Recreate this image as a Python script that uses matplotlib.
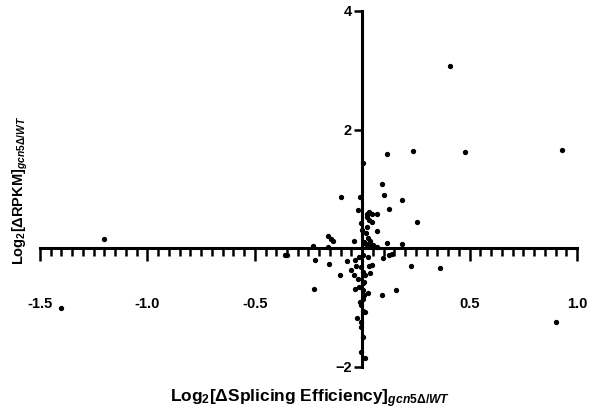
import matplotlib

matplotlib.use("Agg")
import matplotlib.pyplot as plt
from matplotlib.ticker import MultipleLocator, FixedLocator

plt.rcParams["font.family"] = ["Liberation Sans", "DejaVu Sans"]
plt.rcParams["font.weight"] = "bold"
plt.rcParams["mathtext.fontset"] = "custom"
plt.rcParams["mathtext.rm"] = "Liberation Sans:bold"
plt.rcParams["mathtext.bf"] = "Liberation Sans:bold"
plt.rcParams["mathtext.it"] = "Liberation Sans:italic:bold"
plt.rcParams["xtick.major.size"] = 9
plt.rcParams["xtick.minor.size"] = 5.5
plt.rcParams["xtick.major.width"] = 1.8
plt.rcParams["xtick.minor.width"] = 1.8
plt.rcParams["ytick.major.size"] = 6
plt.rcParams["ytick.major.width"] = 1.8

# log2 change in splicing efficiency (x) vs log2 change in RPKM (y), gcn5 delta / WT
splicing = [
    0.41, 0.93, 0.48, 0.236, 0.115, 0.006, 0.092, 0.102, 0.186, -0.101,
    -0.009, -0.020, 0.127, 0.254, -1.203, -1.40, 0.903, 0.36, 0.227, 0.158,
    0.092, 0.185, 0.115, 0.071,
    0.030, 0.022, 0.045, 0.068, 0.022, 0.030, 0.045, -0.005, 0.022, 0.019,
    -0.001, 0.025, 0.037, 0.020, 0.037, 0.052, 0.068, -0.157, -0.144, -0.136,
    -0.037, -0.227, -0.157, 0.010,
    -0.35, -0.36, -0.222, -0.154, -0.102, -0.223, -0.071, -0.035, -0.052, -0.028,
    -0.037, -0.018, -0.033, -0.015, 0.025, 0.096, 0.127, 0.138, 0.030, 0.045,
    0.037, -0.014, 0.028, 0.005, -0.005, 0.005, 0.006, 0.010, 0.005, -0.012,
    -0.006, 0.005, 0.012, -0.025, -0.006, -0.006, 0.014, 0.014, 0.003, 0.008,
    -0.004, 0.002,
]
rpkm = [
    3.08, 1.66, 1.62, 1.64, 1.59, 1.43, 1.08, 0.90, 0.82, 0.86,
    0.86, 0.65, 0.66, 0.45, 0.16, -1.01, -1.25, -0.33, -0.29, -0.71,
    -0.79, 0.08, 0.09, 0.29,
    0.61, 0.58, 0.58, 0.57, 0.53, 0.47, 0.44, 0.43, 0.36, 0.25,
    0.31, 0.18, 0.13, 0.08, 0.06, 0.05, 0.03, 0.21, 0.16, 0.12,
    0.12, 0.04, 0.03, 0.10,
    -0.12, -0.11, -0.20, -0.26, -0.45, -0.69, -0.22, -0.20, -0.37, -0.30,
    -0.45, -0.51, -0.68, -0.65, -0.75, -0.17, -0.12, -0.09, -0.29, -0.28,
    -0.41, -0.15, -0.14, -0.12, -0.32, -0.40, -0.59, -0.57, -0.85, -0.90,
    -0.96, -1.05, -1.07, -1.17, -1.33, -1.74, -1.85, -0.45, -0.70, -0.78,
    -1.25, -1.50,
]
x_major = [-1.5, -1.0, -0.5, 0.0, 0.5, 1.0]
x_labels = ["-1.5", "-1.0", "-0.5", "", "0.5", "1.0"]
y_major = [-2, 2, 4]

fig, ax = plt.subplots(figsize=(5.97, 4.17), dpi=100)
fig.subplots_adjust(left=0.067, right=0.9665, bottom=0.120, top=0.9737)

ax.plot(splicing, rpkm, "o", color="black", markersize=2.8, clip_on=False,
        zorder=3)

ax.set_xlim(-1.5, 1.0)
ax.set_ylim(-2, 4)

ax.spines[["top", "right"]].set_visible(False)
ax.spines["left"].set_position(("data", 0))
ax.spines["bottom"].set_position(("data", 0))
ax.spines["left"].set_linewidth(2.2)
ax.spines["bottom"].set_linewidth(2.2)

ax.set_xticks(x_major, x_labels)
ax.xaxis.set_minor_locator(MultipleLocator(0.05))
ax.set_yticks(y_major)
ax.tick_params(axis="x", which="major", pad=26, labelsize=10.5)
ax.tick_params(axis="y", which="major", pad=1.5, labelsize=10.5)

ax.text(0.503, -0.088,
        r"Log$_{2}$[ΔSplicing Efficiency]$_{gcn5\Delta/WT}$",
        transform=ax.transAxes, ha="center", va="center", fontsize=12.5,
        fontweight="bold")
ax.text(-0.037, 0.497,
        r"Log$_{2}$[ΔRPKM]$_{gcn5\Delta/WT}$",
        transform=ax.transAxes, ha="center", va="center", fontsize=10.5,
        fontweight="bold", rotation=90)

fig.savefig("out.png", dpi=100)
